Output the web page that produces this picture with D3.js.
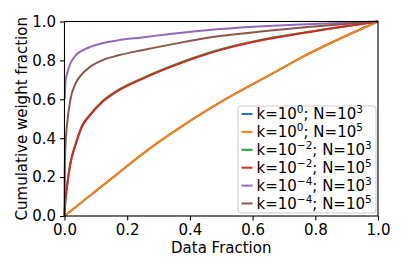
<!DOCTYPE html>
<html>
<head>
<meta charset="utf-8">
<script src="https://cdn.jsdelivr.net/npm/d3@7"></script>
<style>
  body { margin: 0; background: #fff; }
  text { font-family: "DejaVu Sans", sans-serif; }
</style>
</head>
<body>
<div id="chart"></div>
<script>
// data
var dataFraction = [0, 0.001, 0.003, 0.008, 0.019, 0.035, 0.056, 0.08, 0.12, 0.17, 0.247, 0.35, 0.496, 0.649, 0.751, 1];

var k0N3 = [0, 0.0013, 0.004, 0.010, 0.024, 0.045, 0.072, 0.103, 0.154, 0.218, 0.317, 0.435, 0.584, 0.72, 0.811, 1];
var k0N5 = [0, 0.0013, 0.004, 0.010, 0.024, 0.045, 0.072, 0.103, 0.154, 0.218, 0.317, 0.435, 0.584, 0.72, 0.811, 1];
var k2N3 = [0, 0.037, 0.083, 0.154, 0.274, 0.369, 0.464, 0.519, 0.589, 0.647, 0.708, 0.777, 0.856, 0.913, 0.94, 1];
var k2N5 = [0, 0.035, 0.08, 0.15, 0.27, 0.365, 0.46, 0.515, 0.585, 0.643, 0.704, 0.773, 0.853, 0.91, 0.938, 1];
var k4N3 = [null, 0.6, 0.69, 0.73, 0.785, 0.825, 0.85, 0.868, 0.888, 0.903, 0.918, 0.938, 0.961, 0.977, 0.985, 1];
var k4N5 = [0, 0.25, 0.36, 0.468, 0.60, 0.68, 0.73, 0.765, 0.80, 0.825, 0.852, 0.885, 0.925, 0.952, 0.968, 1];

var xTicks = [0, 0.2, 0.4, 0.6, 0.8, 1.0];
var yTicks = [0, 0.2, 0.4, 0.6, 0.8, 1.0];

var series = [
  {k: "0", n: "3", values: k0N3, color: "#1f77b4"},
  {k: "0", n: "5", values: k0N5, color: "#ff7f0e"},
  {k: "\u22122", n: "3", values: k2N3, color: "#2ca02c"},
  {k: "\u22122", n: "5", values: k2N5, color: "#d62728"},
  {k: "\u22124", n: "3", values: k4N3, color: "#9467bd"},
  {k: "\u22124", n: "5", values: k4N5, color: "#8c564b"}
];

var width = 407, height = 271;
var margin = {left: 64.5, right: 29, top: 21.5, bottom: 55};
var fontSize = 15;

var svg = d3.select("#chart").append("svg")
  .attr("width", width)
  .attr("height", height);

svg.append("rect").attr("width", width).attr("height", height).attr("fill", "#fff");

var x = d3.scaleLinear().domain([0, 1]).range([margin.left, width - margin.right]);
var y = d3.scaleLinear().domain([0, 1]).range([height - margin.bottom, margin.top]);

var line = d3.line()
  .defined(function(d){ return d[1] !== null; })
  .x(function(d){ return x(d[0]); })
  .y(function(d){ return y(d[1]); })
  .curve(d3.curveMonotoneX);

var plot = svg.append("g");
series.forEach(function(s){
  plot.append("path")
    .datum(dataFraction.map(function(f, i){ return [f, s.values[i]]; }))
    .attr("d", line)
    .attr("fill", "none")
    .attr("stroke", s.color)
    .attr("stroke-width", 2);
});

// axes
var xAxis = svg.append("g")
  .attr("transform", "translate(0," + y(0) + ")")
  .call(d3.axisBottom(x).tickValues(xTicks).tickFormat(d3.format(".1f")).tickSize(4.5).tickPadding(4));
var yAxis = svg.append("g")
  .attr("transform", "translate(" + x(0) + ",0)")
  .call(d3.axisLeft(y).tickValues(yTicks).tickFormat(d3.format(".1f")).tickSize(4.5).tickPadding(4));

[xAxis, yAxis].forEach(function(a){
  a.select(".domain").remove();
  a.selectAll("line").attr("stroke", "#000").attr("stroke-width", 1.1);
  a.selectAll("text").attr("fill", "#000").style("font-size", fontSize + "px").style("font-family", "DejaVu Sans");
});

// frame
svg.append("rect")
  .attr("x", x(0)).attr("y", y(1))
  .attr("width", x(1) - x(0)).attr("height", y(0) - y(1))
  .attr("fill", "none").attr("stroke", "#000").attr("stroke-width", 1.1);

svg.append("text")
  .attr("x", (x(0) + x(1)) / 2).attr("y", 253)
  .attr("text-anchor", "middle")
  .style("font-size", fontSize + "px")
  .text("Data Fraction");

svg.append("text")
  .attr("transform", "translate(26.5," + ((y(0) + y(1)) / 2) + ") rotate(-90)")
  .attr("text-anchor", "middle")
  .style("font-size", fontSize + "px")
  .text("Cumulative weight fraction");

// legend
var legend = svg.append("g");
legend.append("rect")
  .attr("x", 238).attr("y", 106)
  .attr("width", 138).attr("height", 107)
  .attr("rx", 3)
  .attr("fill", "#fff").attr("fill-opacity", 0.8)
  .attr("stroke", "#ccc").attr("stroke-width", 1);

series.forEach(function(s, i){
  var cy = 114 + i * 17.9;
  legend.append("line")
    .attr("x1", 241.5).attr("x2", 252.5)
    .attr("y1", cy).attr("y2", cy)
    .attr("stroke", s.color).attr("stroke-width", 2);
  var t = legend.append("text")
    .attr("x", 256.5).attr("y", cy + 5.2)
    .style("font-size", fontSize + "px");
  t.append("tspan").text("k=10");
  t.append("tspan").attr("dy", -6).style("font-size", "10.5px").text(s.k);
  t.append("tspan").attr("dy", 6).text("; N=10");
  t.append("tspan").attr("dy", -6).style("font-size", "10.5px").text(s.n);
});
</script>
</body>
</html>
